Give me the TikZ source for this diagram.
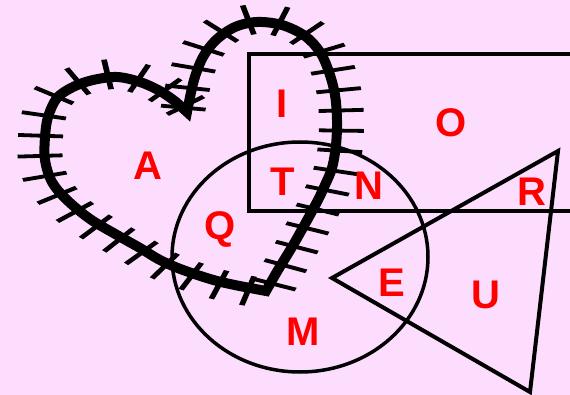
\documentclass[tikz,border=0pt]{standalone}
\usepackage{fontspec}
\setmainfont{Liberation Sans}
\usetikzlibrary{decorations.markings}
\definecolor{bgpink}{RGB}{253,221,253}
\definecolor{lblred}{RGB}{255,0,0}
\newcommand\heartpts[1]{%
  plot[smooth,tension=0.55] coordinates {({187/#1},112) ({194/#1},80) ({203/#1},57) ({216/#1},40) ({235/#1},27) ({257/#1},22) ({282/#1},25) ({305/#1},36) ({320/#1},52) ({329/#1},72) ({335/#1},95) ({337/#1},120) ({336/#1},145) ({332/#1},168) ({325/#1},185) ({318/#1},200) ({305/#1},224) ({292/#1},247) ({278/#1},270) ({266/#1},291)}
  -- plot[smooth,tension=0.55] coordinates {({250/#1},288) ({217/#1},281) ({183/#1},270) ({160/#1},260) ({140/#1},248) ({117/#1},235) ({90/#1},219) ({67/#1},200) ({52/#1},182) ({45/#1},160) ({45/#1},137) ({48/#1},117) ({57/#1},98) ({73/#1},87) ({93/#1},80) ({117/#1},77) ({140/#1},82) ({160/#1},91) ({176/#1},102)}
  -- cycle}
\tikzset{
  heartline/.style={line width=10pt, line join=miter, miter limit=20},
  heartticks/.style={decoration={markings,
      mark=between positions 4pt and -4pt step 20pt with {\draw[line width=3.8pt] (0pt,-12pt) -- (0pt,18pt);}},
      postaction={decorate}},
  shapeline/.style={draw=black, line width=#1},
  lbl/.style={text=lblred, font=\fontsize{40}{40}\selectfont\bfseries, inner sep=0pt}
}
\begin{document}
\begin{tikzpicture}[x=1pt,y=-1pt]
\useasboundingbox (0,0) rectangle (570,395);
\fill[bgpink] (0,0) rectangle (570,395);
\clip (0,0) rectangle (570,395);
% rectangle
\draw[shapeline=4pt] (249,54) rectangle (590,211);
% circle
\draw[shapeline=3.5pt] (300,257) ellipse [x radius=128, y radius=115];
% triangle
\draw[shapeline=4pt, line join=miter] (332,278) -- (558,151) -- (530,392) -- cycle;
% heart
\draw[heartline] \heartpts{1};
\begin{scope}[transform canvas={xscale=1.5}]
\path[heartticks] \heartpts{1.5};
\end{scope}
% labels
\node[lbl] (lA) at (148,166) {A};
\node[lbl] (lI) at (282,104) {I};
\node[lbl] (lT) at (283,182) {T};
\node[lbl] (lQ) at (220,229) {Q};
\node[lbl] (lO) at (451,123) {O};
\node[lbl] (lN) at (369,186) {N};
\node[lbl] (lR) at (532,192) {R};
\node[lbl] (lE) at (392,283) {E};
\node[lbl] (lU) at (486,295) {U};
\node[lbl] (lM) at (303,332) {M};
\end{tikzpicture}
\end{document}
